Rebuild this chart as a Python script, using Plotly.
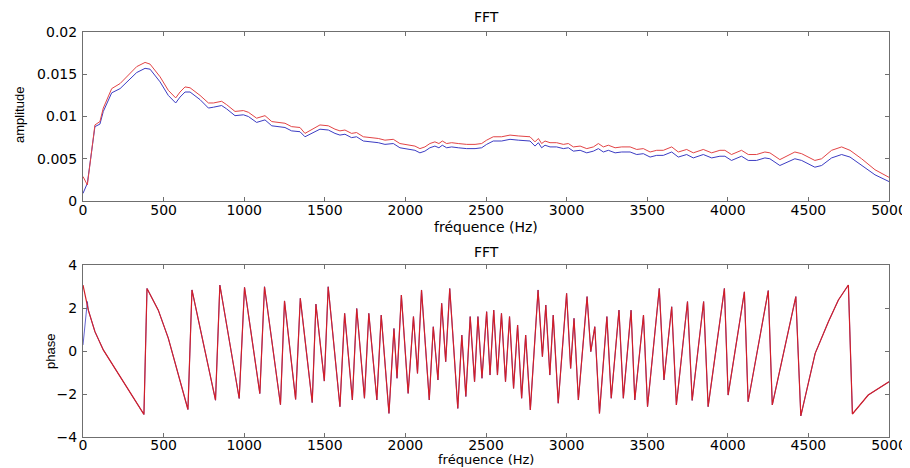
import plotly.graph_objects as go

# ---------------- data ----------------
amp_freq = [0, 27, 74, 105, 126, 178, 230, 281, 333, 385, 416, 478, 529, 575, 602, 633, 664, 726, 778, 809,
            860, 891, 943, 995, 1026, 1077, 1129, 1171, 1222, 1253, 1294, 1346, 1377, 1429, 1470, 1522, 1563,
            1594, 1625, 1666, 1697, 1739, 1790, 1832, 1873, 1925, 1966, 2008, 2059, 2090, 2121, 2152, 2183,
            2208, 2229, 2256, 2287, 2328, 2380, 2432, 2473, 2504, 2545, 2597, 2649, 2700, 2773, 2804, 2825,
            2845, 2866, 2897, 2938, 2980, 3011, 3042, 3084, 3125, 3166, 3197, 3228, 3259, 3301, 3342, 3394,
            3435, 3476, 3518, 3559, 3600, 3652, 3693, 3745, 3786, 3848, 3900, 3951, 3982, 4023, 4085, 4127,
            4178, 4230, 4261, 4323, 4416, 4458, 4540, 4582, 4644, 4706, 4758, 4830, 4913, 5000]

amp_red = [0.0029, 0.0019, 0.0090, 0.0094, 0.0110, 0.0133, 0.0139, 0.0149, 0.0159, 0.0164, 0.0162, 0.0147,
           0.0131, 0.0122, 0.0129, 0.0135, 0.0134, 0.0125, 0.0116, 0.0116, 0.0118, 0.0114, 0.0106, 0.0107,
           0.0105, 0.0098, 0.0101, 0.0094, 0.0093, 0.0092, 0.0088, 0.0087, 0.0080, 0.0086, 0.0090, 0.0089,
           0.0085, 0.0083, 0.0084, 0.0080, 0.0081, 0.0076, 0.0075, 0.0074, 0.0072, 0.0073, 0.0068, 0.0067,
           0.0065, 0.0062, 0.0064, 0.0068, 0.0070, 0.0068, 0.0071, 0.0068, 0.0069, 0.0068, 0.0067, 0.0067,
           0.0068, 0.0072, 0.0076, 0.0076, 0.0078, 0.0077, 0.0076, 0.0070, 0.0074, 0.0068, 0.0071, 0.0069,
           0.0069, 0.0067, 0.0068, 0.0064, 0.0065, 0.0062, 0.0064, 0.0068, 0.0064, 0.0066, 0.0063, 0.0064,
           0.0064, 0.0061, 0.0062, 0.0058, 0.0060, 0.0060, 0.0064, 0.0058, 0.0061, 0.0057, 0.0061, 0.0057,
           0.0060, 0.0060, 0.0055, 0.0060, 0.0055, 0.0055, 0.0058, 0.0057, 0.0049, 0.0058, 0.0056, 0.0048,
           0.0050, 0.0060, 0.0064, 0.0060, 0.0050, 0.0037, 0.0028]

amp_blue = [0.0009, 0.0021, 0.0088, 0.0091, 0.0106, 0.0128, 0.0133, 0.0143, 0.0152, 0.0157, 0.0156, 0.0141,
            0.0125, 0.0116, 0.0123, 0.0129, 0.0129, 0.0120, 0.0110, 0.0111, 0.0113, 0.0109, 0.0101, 0.0102,
            0.0100, 0.0093, 0.0096, 0.0089, 0.0088, 0.0087, 0.0083, 0.0082, 0.0076, 0.0081, 0.0085, 0.0084,
            0.0080, 0.0078, 0.0079, 0.0075, 0.0076, 0.0071, 0.0070, 0.0069, 0.0067, 0.0068, 0.0063, 0.0062,
            0.0060, 0.0057, 0.0059, 0.0063, 0.0065, 0.0063, 0.0066, 0.0063, 0.0064, 0.0063, 0.0062, 0.0062,
            0.0063, 0.0067, 0.0071, 0.0071, 0.0073, 0.0072, 0.0071, 0.0065, 0.0069, 0.0063, 0.0066, 0.0064,
            0.0064, 0.0062, 0.0063, 0.0059, 0.0060, 0.0057, 0.0059, 0.0062, 0.0058, 0.0060, 0.0057, 0.0058,
            0.0058, 0.0055, 0.0056, 0.0052, 0.0054, 0.0054, 0.0058, 0.0052, 0.0055, 0.0051, 0.0055, 0.0051,
            0.0053, 0.0053, 0.0048, 0.0053, 0.0048, 0.0048, 0.0051, 0.0050, 0.0042, 0.0050, 0.0048, 0.0040,
            0.0042, 0.0051, 0.0055, 0.0052, 0.0042, 0.0031, 0.0023]

phase_freq = [0, 33, 74, 126, 378, 397, 467, 529, 651, 676, 822, 849, 969, 1002, 1097, 1126, 1225, 1250,
              1319, 1348, 1422, 1445, 1497, 1521, 1594, 1623, 1671, 1698, 1746, 1773, 1823, 1850, 1898, 1929,
              1948, 1975, 2017, 2050, 2075, 2100, 2148, 2173, 2202, 2225, 2250, 2275, 2325, 2350, 2375, 2402,
              2429, 2450, 2475, 2504, 2525, 2548, 2571, 2596, 2621, 2646, 2671, 2696, 2721, 2746, 2775, 2823,
              2850, 2871, 2896, 2917, 2948, 3000, 3025, 3046, 3073, 3127, 3150, 3175, 3204, 3250, 3277, 3325,
              3352, 3400, 3423, 3477, 3502, 3575, 3604, 3652, 3681, 3750, 3779, 3850, 3878, 3979, 4002, 4103,
              4126, 4251, 4276, 4422, 4453, 4542, 4624, 4686, 4748, 4773, 4871, 5000]

phase_red = [3.07, 1.9, 0.9, 0.05, -2.95, 2.91, 1.9, 0.6, -2.72, 2.84, -2.29, 3.07, -2.21, 2.96, -1.98, 2.99,
             -2.5, 2.33, -2.25, 2.45, -2.4, 2.18, -1.4, 2.99, -2.59, 1.75, -2.28, 1.98, -2.2, 1.75, -2.28, 1.67,
             -2.9, 1.05, -1.27, 2.6, -1.97, 1.6, -1.04, 2.84, -2.28, 1.13, -1.35, 2.22, -0.5, 2.91, -2.67, 0.74,
             -2.12, 1.6, -1.43, 1.6, -1.27, 1.83, -1.12, 1.9, -1.12, 1.75, -1.43, 1.6, -1.74, 1.21, -2.2, 0.74,
             -2.74, 2.84, -0.26, 2.14, -1.12, 1.67, -2.43, 2.68, -0.81, 1.52, -2.28, 2.53, -0.03, 1.13, -2.9, 1.6,
             -2.2, 1.9, -2.2, 1.9, -2.28, 1.67, -2.59, 2.91, -1.35, 2.06, -2.51, 2.3, -2.3, 2.3, -2.59, 2.91,
             -2.05, 2.75, -2.36, 2.81, -2.51, 2.53, -3.02, -0.11, 1.36, 2.37, 3.07, -2.93, -2.05, -1.43]

# the blue phase curve starts differently, then follows the red one
phase_blue_head_freq = [0, 27]
phase_blue_head = [0.28, 2.3]

x_ticks = [0, 500, 1000, 1500, 2000, 2500, 3000, 3500, 4000, 4500, 5000]
amp_ticks = [0, 0.005, 0.01, 0.015, 0.02]
amp_tick_text = ["0", "0.005", "0.01", "0.015", "0.02"]
phase_ticks = [-4, -2, 0, 2, 4]

RED = "rgb(226,68,70)"
BLUE = "rgb(60,60,195)"

fig = go.Figure()
fig.add_trace(go.Scatter(x=amp_freq, y=amp_blue, mode="lines", line=dict(color=BLUE, width=1),
                         xaxis="x", yaxis="y", showlegend=False))
fig.add_trace(go.Scatter(x=amp_freq, y=amp_red, mode="lines", line=dict(color=RED, width=1),
                         xaxis="x", yaxis="y", showlegend=False))
fig.add_trace(go.Scatter(x=phase_blue_head_freq + phase_freq[1:], y=phase_blue_head + phase_red[1:],
                         mode="lines", line=dict(color=BLUE, width=0.8),
                         xaxis="x2", yaxis="y2", showlegend=False))
fig.add_trace(go.Scatter(x=phase_freq, y=phase_red, mode="lines", line=dict(color="rgb(210,30,40)", width=1.2),
                         xaxis="x2", yaxis="y2", showlegend=False))

# The page body has an 8px margin, so the figure is drawn 8px in and shrunk by 8px.
OFF = 8
W, H = 910 - OFF, 468 - OFF
L, R, T, B = 83 - OFF, 889 - OFF, 32 - OFF, 437 - OFF   # plot area in figure pixels
PW, PH = R - L, B - T


def px(xp):
    """window pixel x -> paper x"""
    return (xp - OFF - L) / PW


def py(yp):
    """window pixel y -> paper y"""
    return (B - (yp - OFF)) / PH


top_dom = [py(201), 1.0]
bot_dom = [0.0, py(265)]

tickfont = dict(family="DejaVu Sans", size=14, color="black")
axis_common = dict(showline=True, mirror="allticks", ticks="inside", ticklen=4, linecolor="#6f6f6f",
                   tickcolor="#6f6f6f", linewidth=1, showgrid=False, zeroline=False, tickfont=tickfont,
                   fixedrange=True, automargin=False)

fig.update_layout(
    width=W, height=H, margin=dict(l=L, r=W - R, t=T, b=H - B, pad=0, autoexpand=False),
    paper_bgcolor="white", plot_bgcolor="white", showlegend=False,
    xaxis=dict(domain=[0, 1], anchor="y", range=[0, 5000], tickvals=x_ticks, ticklabelstandoff=-4,
               **axis_common),
    yaxis=dict(domain=top_dom, anchor="x", range=[0, 0.02], tickvals=amp_ticks, ticktext=amp_tick_text,
               ticklabelstandoff=2, **axis_common),
    xaxis2=dict(domain=[0, 1], anchor="y2", range=[0, 5000], tickvals=x_ticks, ticklabelstandoff=-5,
                **axis_common),
    yaxis2=dict(domain=bot_dom, anchor="x2", range=[-4, 4], tickvals=phase_ticks, ticklabelstandoff=2,
                **axis_common),
)

ann_font = dict(family="DejaVu Sans", size=14, color="black")
xlab_font = dict(family="DejaVu Sans", size=13, color="black")
lab_font = dict(family="Liberation Sans", size=13, color="black")


def ann(text, x, y, font, angle=0, yanchor="middle"):
    fig.add_annotation(text=text, x=px(x), y=py(y), xref="paper", yref="paper", showarrow=False,
                       xanchor="center", yanchor=yanchor, font=font, textangle=angle, borderpad=0)


cx = (83 + 889) / 2
ann("FFT", cx, 17, ann_font)
ann("FFT", cx, 252, ann_font)
ann("fréquence (Hz)", cx, 227, ann_font)
ann("fréquence (Hz)", cx, 468, xlab_font, yanchor="bottom")
ann("amplitude", 19, 115, lab_font, -90)
ann("phase", 50, 352, lab_font, -90)

fig.write_html("out.html")
